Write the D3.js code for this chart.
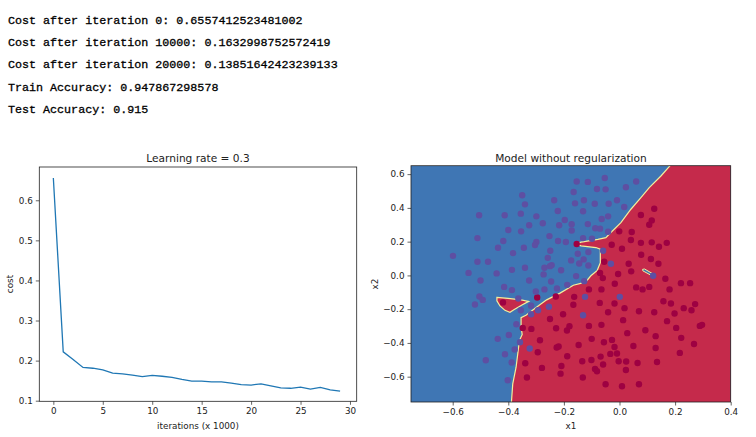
<!DOCTYPE html>
<html>
<head>
<meta charset="utf-8">
<script src="https://cdn.jsdelivr.net/npm/d3@7"></script>
<style>
  body { margin: 0; background: #fff; }
  svg { display: block; }
  .tick text { font-family: "DejaVu Sans", sans-serif; font-size: 8.8px; fill: #222; }
  .tick line { stroke: #222; stroke-width: 0.7; }
</style>
</head>
<body>
<div id="chart"></div>
<script>
// printed log above the plots
const logLines = [
  'Cost after iteration 0: 0.6557412523481002',
  'Cost after iteration 10000: 0.1632998752572419',
  'Cost after iteration 20000: 0.13851642423239133',
  'Train Accuracy: 0.947867298578',
  'Test Accuracy: 0.915'
];

// cost curve (one value per 1000 iterations)
const iterations = [0, 1, 2, 3, 4, 5, 6, 7, 8, 9, 10, 11, 12, 13, 14, 15, 16, 17, 18, 19, 20, 21, 22, 23, 24, 25, 26, 27, 28, 29];
const costs = [0.6557, 0.2218, 0.203, 0.183, 0.181, 0.177, 0.169, 0.167, 0.164, 0.160,
               0.1633, 0.161, 0.158, 0.153, 0.149, 0.149, 0.147, 0.147, 0.144, 0.140,
               0.139, 0.142, 0.137, 0.132, 0.131, 0.134, 0.129, 0.133, 0.127, 0.124];
const costXTicks = [0, 5, 10, 15, 20, 25, 30];
const costYTicks = [0.1, 0.2, 0.3, 0.4, 0.5, 0.6];

// decision boundary (x1, x2)
const mainBoundary = [
  [0.182, 0.650], [0.149, 0.589], [0.107, 0.520], [0.077, 0.461], [0.041, 0.392],
  [0.005, 0.313], [-0.031, 0.254], [-0.049, 0.224], [-0.078, 0.214], [-0.138, 0.197],
  [-0.158, 0.186], [-0.138, 0.175], [-0.085, 0.165], [-0.069, 0.155], [-0.069, 0.075],
  [-0.080, 0.030], [-0.103, -0.002], [-0.122, -0.040], [-0.166, -0.058], [-0.214, -0.105],
  [-0.262, -0.145], [-0.300, -0.190], [-0.335, -0.235], [-0.354, -0.250], [-0.354, -0.307],
  [-0.350, -0.350], [-0.360, -0.386], [-0.366, -0.465], [-0.372, -0.544], [-0.384, -0.643],
  [-0.390, -0.780]
];
const redIsland = [
  [-0.441, -0.130], [-0.401, -0.136], [-0.354, -0.145], [-0.327, -0.154], [-0.351, -0.175],
  [-0.380, -0.204], [-0.394, -0.219], [-0.412, -0.207], [-0.430, -0.181], [-0.441, -0.151]
];
const blueSliver = [
  [0.083, 0.036], [0.090, 0.038], [0.128, 0.002], [0.126, -0.007], [0.120, -0.005], [0.084, 0.027]
];

// training points, label 1 (blue side)
const class1 = [
  [-0.350, 0.475], [-0.340, 0.421], [-0.235, 0.445], [-0.222, 0.382], [-0.505, 0.356],
  [-0.413, 0.356], [-0.355, 0.366], [-0.299, 0.350], [-0.197, 0.328], [-0.325, 0.297],
  [-0.276, 0.309], [-0.217, 0.297], [-0.172, 0.303], [-0.400, 0.269], [-0.354, 0.261],
  [-0.511, 0.221], [-0.418, 0.204], [-0.252, 0.233], [-0.221, 0.204], [-0.193, 0.198],
  [-0.299, 0.198], [-0.304, 0.180], [-0.437, 0.164], [-0.344, 0.164], [-0.249, 0.146],
  [-0.383, 0.132], [-0.599, 0.116], [-0.258, 0.104], [-0.174, 0.089], [-0.511, 0.081],
  [-0.473, 0.081], [-0.340, 0.045], [-0.270, 0.045], [-0.244, 0.061], [-0.250, 0.055],
  [-0.387, 0.033], [-0.210, 0.031], [-0.543, 0.015], [-0.442, 0.012], [-0.273, 0.006],
  [-0.500, -0.030], [-0.325, -0.030], [-0.246, -0.036],
  [-0.154, 0.556], [-0.114, 0.554], [-0.053, 0.577], [0.060, 0.556], [-0.165, 0.494],
  [-0.081, 0.512], [-0.050, 0.510], [0.023, 0.522], [-0.160, 0.427], [-0.128, 0.445],
  [-0.089, 0.425], [-0.039, 0.425], [-0.009, 0.445], [0.017, 0.405], [-0.131, 0.380],
  [-0.064, 0.334], [-0.041, 0.350], [-0.114, 0.304], [-0.087, 0.279], [-0.070, 0.277],
  [-0.041, 0.259], [-0.172, 0.266], [-0.131, 0.221], [-0.099, 0.217], [-0.150, 0.128],
  [-0.112, 0.138], [-0.059, 0.146], [-0.129, 0.095], [-0.145, 0.071], [-0.112, 0.059],
  [-0.031, 0.069], [-0.156, -0.004], [-0.127, -0.034], [0.121, -0.002],
  [-0.415, -0.068], [-0.387, -0.087], [-0.301, -0.095], [-0.270, -0.083], [-0.225, -0.077],
  [-0.188, -0.056], [-0.504, -0.125], [-0.492, -0.145], [-0.520, -0.172], [-0.364, -0.137],
  [-0.318, -0.180], [-0.355, -0.206], [-0.318, -0.230], [-0.293, -0.206], [-0.254, -0.186],
  [-0.371, -0.289], [-0.398, -0.353], [-0.438, -0.376], [-0.358, -0.396], [-0.377, -0.439],
  [-0.323, -0.433], [-0.412, -0.467], [-0.481, -0.503], [-0.388, -0.516], [-0.402, -0.621],
  [-0.124, -0.127], [0.001, -0.127], [-0.131, -0.236]
];

// training points, label 0 (red side)
const class0 = [
  [-0.154, 0.186], [0.125, 0.395], [0.077, 0.358], [0.116, 0.326], [0.107, 0.300],
  [-0.001, 0.261], [0.044, 0.257], [0.041, 0.210], [0.077, 0.193], [0.116, 0.196],
  [0.142, 0.170], [0.170, 0.193], [-0.028, 0.182], [0.009, 0.158], [0.078, 0.122],
  [0.113, 0.097], [-0.055, 0.081], [0.033, 0.069], [0.140, 0.069], [-0.070, 0.015],
  [-0.005, 0.008], [0.042, 0.024], [-0.060, -0.016], [0.165, -0.020], [-0.017, -0.049],
  [0.221, -0.046], [0.254, -0.046],
  [-0.296, -0.131], [-0.229, -0.125], [-0.419, -0.160], [-0.203, -0.230], [-0.250, -0.258],
  [-0.348, -0.311], [-0.317, -0.317], [-0.228, -0.313], [-0.189, -0.326], [-0.180, -0.301],
  [-0.286, -0.384], [-0.226, -0.427], [-0.219, -0.421], [-0.294, -0.455], [-0.188, -0.479],
  [-0.339, -0.520], [-0.279, -0.548], [-0.209, -0.537], [-0.212, -0.582], [-0.333, -0.605],
  [-0.163, -0.127], [-0.110, -0.083], [-0.065, -0.083], [0.060, -0.071], [0.083, -0.083],
  [0.107, -0.068], [0.180, -0.083], [-0.166, -0.174], [-0.071, -0.163], [-0.018, -0.166],
  [0.018, -0.194], [0.158, -0.153], [0.185, -0.166], [0.231, -0.194], [0.259, -0.206],
  [0.272, -0.170], [-0.041, -0.218], [0.070, -0.212], [0.125, -0.218], [0.198, -0.226],
  [-0.110, -0.299], [-0.065, -0.293], [0.013, -0.265], [0.171, -0.271], [0.204, -0.311],
  [0.289, -0.299], [0.297, -0.293], [0.093, -0.325], [0.028, -0.342], [0.130, -0.360],
  [0.222, -0.370], [-0.100, -0.376], [-0.027, -0.382], [-0.147, -0.412], [-0.056, -0.396],
  [-0.018, -0.424], [0.050, -0.418], [0.130, -0.430], [0.268, -0.406], [0.217, -0.459],
  [-0.033, -0.465], [-0.009, -0.463], [-0.068, -0.481], [-0.101, -0.501], [-0.134, -0.509],
  [-0.003, -0.509], [0.024, -0.510], [0.065, -0.519], [0.135, -0.513], [-0.059, -0.528],
  [-0.088, -0.554], [-0.081, -0.568], [0.023, -0.560], [-0.132, -0.605], [-0.050, -0.645],
  [0.009, -0.657], [0.070, -0.645]
];
const boundaryTicks = [-0.6, -0.4, -0.2, 0.0, 0.2, 0.4];
const boundaryYTicks = [-0.6, -0.4, -0.2, 0.0, 0.2, 0.4, 0.6];

const svg = d3.select('#chart')
    .append('svg')
    .attr('width', 756)
    .attr('height', 437);

// log text
svg.append('g')
    .selectAll('text')
    .data(logLines)
    .join('text')
    .attr('x', 8)
    .attr('y', (d, i) => 23.5 + i * 22.4)
    .attr('font-family', '"Liberation Mono", monospace')
    .attr('font-size', 11.7)
    .attr('fill', '#000')
    .attr('stroke', '#000')
    .attr('stroke-width', 0.3)
    .text(d => d);

// ---------- left: cost curve ----------
const lx = d3.scaleLinear().domain([-1.42, 30.68]).range([39.3, 356.7]);
const ly = d3.scaleLinear().domain([0.0985, 0.683]).range([401.3, 167]);

const left = svg.append('g');

left.append('path')
    .datum(iterations.map((it, i) => [it, costs[i]]))
    .attr('fill', 'none')
    .attr('stroke', '#1f77b4')
    .attr('stroke-width', 1.3)
    .attr('d', d3.line().x(d => lx(d[0])).y(d => ly(d[1])));

left.append('g')
    .attr('transform', 'translate(0,401.3)')
    .call(d3.axisBottom(lx).tickValues(costXTicks).tickSize(3.5).tickPadding(3).tickFormat(d3.format('d')))
    .call(g => g.select('.domain').remove());

left.append('g')
    .attr('transform', 'translate(39.3,0)')
    .call(d3.axisLeft(ly).tickValues(costYTicks).tickSize(3.5).tickPadding(3).tickFormat(d3.format('.1f')))
    .call(g => g.select('.domain').remove());

left.append('rect')
    .attr('x', 39.3).attr('y', 167)
    .attr('width', 356.7 - 39.3).attr('height', 401.3 - 167)
    .attr('fill', 'none').attr('stroke', '#222').attr('stroke-width', 0.8);

left.append('text')
    .attr('x', 198).attr('y', 161.5)
    .attr('text-anchor', 'middle')
    .attr('font-family', '"DejaVu Sans", sans-serif').attr('font-size', 10.6).attr('fill', '#222')
    .text('Learning rate = 0.3');

left.append('text')
    .attr('x', 198).attr('y', 428.5)
    .attr('text-anchor', 'middle')
    .attr('font-family', '"DejaVu Sans", sans-serif').attr('font-size', 8.8).attr('fill', '#222')
    .text('iterations (x 1000)');

left.append('text')
    .attr('transform', 'translate(13,284) rotate(-90)')
    .attr('text-anchor', 'middle')
    .attr('font-family', '"DejaVu Sans", sans-serif').attr('font-size', 8.8).attr('fill', '#222')
    .text('cost');

// ---------- right: decision boundary ----------
const rx = d3.scaleLinear().domain([-0.75, 0.4]).range([411, 730.7]);
const ry = d3.scaleLinear().domain([-0.75, 0.65]).range([402, 165.7]);

const right = svg.append('g');

svg.append('defs').append('clipPath').attr('id', 'plotclip')
    .append('rect')
    .attr('x', 411).attr('y', 165.7)
    .attr('width', 730.7 - 411).attr('height', 402 - 165.7);

const plot = right.append('g').attr('clip-path', 'url(#plotclip)');
const poly = d3.line().x(d => rx(d[0])).y(d => ry(d[1]));

plot.append('rect')
    .attr('x', 411).attr('y', 165.7)
    .attr('width', 730.7 - 411).attr('height', 402 - 165.7)
    .attr('fill', '#3f76b4');

plot.append('path')
    .attr('d', poly([...mainBoundary, [0.5, -0.8], [0.5, 0.7], [0.19, 0.7]]) + 'Z')
    .attr('fill', '#c52a4b');

plot.append('path')
    .attr('d', poly(mainBoundary))
    .attr('fill', 'none')
    .attr('stroke', '#f2ee9c')
    .attr('stroke-width', 1.2);

plot.append('path')
    .attr('d', poly(redIsland) + 'Z')
    .attr('fill', '#c52a4b')
    .attr('stroke', '#f2ee9c')
    .attr('stroke-width', 1.2);

plot.append('path')
    .attr('d', poly(blueSliver) + 'Z')
    .attr('fill', '#3f76b4')
    .attr('stroke', '#f2ee9c')
    .attr('stroke-width', 1);

plot.append('g')
    .selectAll('circle')
    .data(class0)
    .join('circle')
    .attr('cx', d => rx(d[0]))
    .attr('cy', d => ry(d[1]))
    .attr('r', 3.2)
    .attr('fill', '#9e0142');

plot.append('g')
    .selectAll('circle')
    .data(class1)
    .join('circle')
    .attr('cx', d => rx(d[0]))
    .attr('cy', d => ry(d[1]))
    .attr('r', 3.2)
    .attr('fill', '#5e4fa2');

right.append('g')
    .attr('transform', 'translate(0,402)')
    .call(d3.axisBottom(rx).tickValues(boundaryTicks).tickSize(3.5).tickPadding(3).tickFormat(d3.format('.1f')))
    .call(g => g.select('.domain').remove());

right.append('g')
    .attr('transform', 'translate(411,0)')
    .call(d3.axisLeft(ry).tickValues(boundaryYTicks).tickSize(3.5).tickPadding(3).tickFormat(d3.format('.1f')))
    .call(g => g.select('.domain').remove());

right.append('rect')
    .attr('x', 411).attr('y', 165.7)
    .attr('width', 730.7 - 411).attr('height', 402 - 165.7)
    .attr('fill', 'none').attr('stroke', '#222').attr('stroke-width', 0.8);

right.append('text')
    .attr('x', 571).attr('y', 161.5)
    .attr('text-anchor', 'middle')
    .attr('font-family', '"DejaVu Sans", sans-serif').attr('font-size', 10.6).attr('fill', '#222')
    .text('Model without regularization');

right.append('text')
    .attr('x', 571).attr('y', 428.5)
    .attr('text-anchor', 'middle')
    .attr('font-family', '"DejaVu Sans", sans-serif').attr('font-size', 8.8).attr('fill', '#222')
    .text('x1');

right.append('text')
    .attr('transform', 'translate(378,284) rotate(-90)')
    .attr('text-anchor', 'middle')
    .attr('font-family', '"DejaVu Sans", sans-serif').attr('font-size', 8.8).attr('fill', '#222')
    .text('x2');
</script>
</body>
</html>
